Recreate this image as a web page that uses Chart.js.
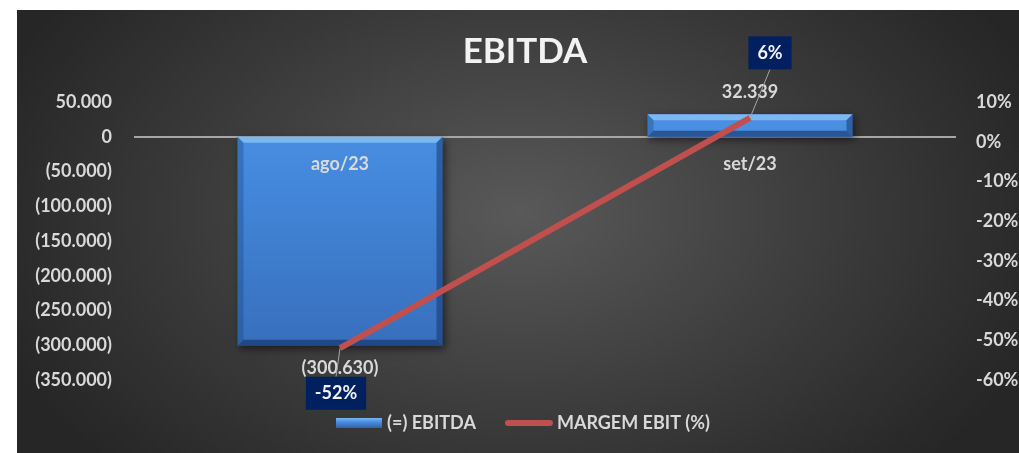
<!DOCTYPE html>
<html>
<head>
<meta charset="utf-8">
<script src="https://cdn.jsdelivr.net/npm/chart.js@4.4.0/dist/chart.umd.min.js"></script>
<style>
  html, body { margin: 0; padding: 0; background: #fff; }
  #wrap {
    position: absolute; left: 17px; top: 10px; width: 1002px; height: 443px;
    background: radial-gradient(ellipse 560px 360px at 50% 46%, #595959 0%, #3c3c3c 55%, #262626 100%);
  }
</style>
</head>
<body>
<div id="wrap"><canvas id="myChart" width="1002" height="443"></canvas></div>
<script>
const months = ["ago/23", "set/23"];
const ebitda = [-300630, 32339];
const margemEbit = [-0.52, 0.06];
const leftTicks = [50000, 0, -50000, -100000, -150000, -200000, -250000, -300000, -350000];
const rightTicks = [0.1, 0, -0.1, -0.2, -0.3, -0.4, -0.5, -0.6];

const textColor = "#d9d9d9";
Chart.defaults.font.family = "Lato";
Chart.defaults.font.weight = "bold";
Chart.defaults.font.size = 18;
Chart.defaults.color = textColor;

function fmtNum(v) {
  const s = String(Math.abs(v)).replace(/\B(?=(\d{3})+(?!\d))/g, ".");
  return v < 0 ? "(" + s + ")" : s;
}
function fmtPct(v) {
  return Math.round(v * 100) + "%";
}

function poly(ctx, pts, color) {
  ctx.beginPath();
  ctx.moveTo(pts[0][0], pts[0][1]);
  for (let i = 1; i < pts.length; i++) ctx.lineTo(pts[i][0], pts[i][1]);
  ctx.closePath();
  ctx.fillStyle = color;
  ctx.fill();
}

// legend swatches
const barSwatch = document.createElement("canvas");
barSwatch.width = 46; barSwatch.height = 10;
(function () {
  const c = barSwatch.getContext("2d");
  const g = c.createLinearGradient(0, 0, 0, 10);
  g.addColorStop(0, "#7ab6f2");
  g.addColorStop(0.4, "#4a8ee0");
  g.addColorStop(1, "#2f63ad");
  c.fillStyle = g;
  c.fillRect(0, 0, 46, 10);
})();
const lineSwatch = document.createElement("canvas");
lineSwatch.width = 50; lineSwatch.height = 8;
(function () {
  const c = lineSwatch.getContext("2d");
  c.strokeStyle = "#c0504d";
  c.lineWidth = 6;
  c.lineCap = "round";
  c.beginPath(); c.moveTo(4, 4); c.lineTo(46, 4); c.stroke();
})();

// bevel + shadow on the bars
const barLook = {
  id: "barLook",
  beforeDatasetDraw(chart, args) {
    if (args.meta.type !== "bar") return;
    const ctx = chart.ctx;
    ctx.save();
    ctx.shadowColor = "rgba(0,0,0,0.55)";
    ctx.shadowBlur = 8;
    ctx.shadowOffsetX = 2;
    ctx.shadowOffsetY = 3;
  },
  afterDatasetDraw(chart, args) {
    if (args.meta.type !== "bar") return;
    const ctx = chart.ctx;
    ctx.restore();
    args.meta.data.forEach(bar => {
      const l = bar.x - bar.width / 2, r = bar.x + bar.width / 2;
      const t = Math.min(bar.y, bar.base), b = Math.max(bar.y, bar.base);
      const d = 6;
      poly(ctx, [[l, t], [r, t], [r - d, t + d], [l + d, t + d]], "rgba(160,210,255,0.6)");
      poly(ctx, [[l, b], [r, b], [r - d, b - d], [l + d, b - d]], "rgba(15,40,90,0.55)");
      poly(ctx, [[l, t], [l + d, t + d], [l + d, b - d], [l, b]], "rgba(20,55,110,0.3)");
      poly(ctx, [[r, t], [r - d, t + d], [r - d, b - d], [r, b]], "rgba(15,40,90,0.45)");
    });
  }
};

// value labels
const labelOffsets = [[-4, 45], [20, -65]];
const dataLabels = {
  id: "dataLabels",
  afterDatasetsDraw(chart) {
    const ctx = chart.ctx;
    const barMeta = chart.getDatasetMeta(0);
    const lineMeta = chart.getDatasetMeta(1);
    ctx.save();
    ctx.font = "bold 18px Lato";
    ctx.textAlign = "center";
    ctx.textBaseline = "middle";
    barMeta.data.forEach((bar, i) => {
      const v = ebitda[i];
      ctx.fillStyle = textColor;
      ctx.fillText(fmtNum(v), bar.x, v < 0 ? bar.y + 22 : bar.y - 22);
    });
    lineMeta.data.forEach((pt, i) => {
      const [dx, dy] = labelOffsets[i];
      const text = fmtPct(margemEbit[i]);
      const w = ctx.measureText(text).width + 18, h = 33;
      const cx = pt.x + dx, cy = pt.y + dy;
      ctx.strokeStyle = "#a6a6a6";
      ctx.lineWidth = 1;
      ctx.beginPath();
      ctx.moveTo(pt.x, pt.y);
      ctx.lineTo(cx, dy > 0 ? cy - h / 2 : cy + h / 2);
      ctx.stroke();
      ctx.fillStyle = "#002060";
      ctx.fillRect(cx - w / 2, cy - h / 2, w, h);
      ctx.fillStyle = "#f2f2f2";
      ctx.fillText(text, cx, cy);
    });
    ctx.restore();
  }
};

const ctx = document.getElementById("myChart");

const myChart = new Chart(ctx, {
  data: {
    labels: months,
    datasets: [
      {
        type: "bar",
        label: "(=) EBITDA",
        data: ebitda,
        yAxisID: "y",
        order: 2,
        barPercentage: 0.5,
        categoryPercentage: 1,
        backgroundColor: (c) => {
          const area = c.chart.chartArea;
          if (!area) return "#4084d6";
          const g = c.chart.ctx.createLinearGradient(0, area.top, 0, area.bottom);
          g.addColorStop(0, "#4c92e4");
          g.addColorStop(0.3, "#4387da");
          g.addColorStop(1, "#356ab6");
          return g;
        },
        borderWidth: 0
      },
      {
        type: "line",
        label: "MARGEM EBIT (%)",
        data: margemEbit,
        yAxisID: "y1",
        order: 1,
        borderColor: "#c0504d",
        borderWidth: 6,
        pointRadius: 0,
        tension: 0
      }
    ]
  },
  options: {
    responsive: false,
    animation: false,
    layout: { padding: { top: 0, bottom: 11, left: 14, right: 0 } },
    plugins: {
      tooltip: { enabled: false },
      title: {
        display: true,
        text: "EBITDA",
        color: "#f2f2f2",
        font: { size: 35, weight: "bold" },
        padding: { top: 21, bottom: 29 }
      },
      legend: {
        position: "bottom",
        labels: {
          padding: 34,
          usePointStyle: true,
          pointStyleWidth: 38,
          color: textColor,
          font: { size: 18, weight: "bold" },
          generateLabels: () => [
            { text: "(=) EBITDA", pointStyle: barSwatch, lineWidth: 0, fillStyle: "transparent", strokeStyle: "transparent", fontColor: textColor, datasetIndex: 0, hidden: false },
            { text: "MARGEM EBIT (%)", pointStyle: lineSwatch, lineWidth: 0, fillStyle: "transparent", strokeStyle: "transparent", fontColor: textColor, datasetIndex: 1, hidden: false }
          ]
        }
      }
    },
    scales: {
      x: {
        type: "category",
        position: { y: 0 },
        offset: true,
        grid: { display: false, drawTicks: false, tickLength: 0 },
        border: { display: true, color: "#a6a6a6", width: 2, z: 0 },
        ticks: { padding: 17, color: textColor, z: 1, maxRotation: 0 }
      },
      y: {
        position: "left",
        min: leftTicks[leftTicks.length - 1],
        max: leftTicks[0],
        afterBuildTicks: s => { s.ticks = leftTicks.map(v => ({ value: v })); },
        afterFit: s => { s.width = 104; },
        grid: { display: false, drawTicks: false, tickLength: 0 },
        border: { display: false },
        ticks: { padding: 23, autoSkip: false, callback: v => (v === 0 ? "0" : fmtNum(v)) }
      },
      y1: {
        position: "right",
        min: rightTicks[rightTicks.length - 1],
        max: rightTicks[0],
        afterBuildTicks: s => { s.ticks = rightTicks.map(v => ({ value: v })); },
        afterFit: s => { s.width = 64; },
        grid: { display: false, drawTicks: false, tickLength: 0 },
        border: { display: false },
        ticks: { padding: 21, autoSkip: false, callback: v => fmtPct(v) }
      }
    }
  },
  plugins: [barLook, dataLabels]
});
</script>
</body>
</html>
